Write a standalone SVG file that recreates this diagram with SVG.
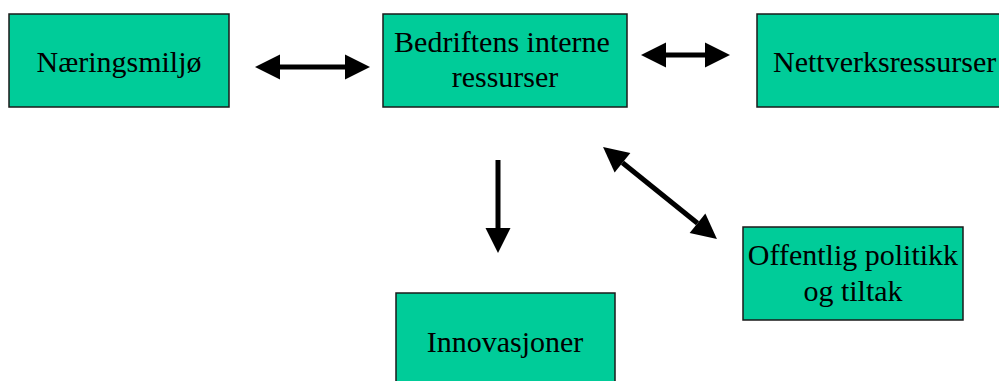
<svg xmlns="http://www.w3.org/2000/svg" width="999" height="381" viewBox="0 0 999 381">
<style>
.box{fill:#00CC99;stroke:#1a1a1a;stroke-width:1.5}
.lbl{font-family:"Liberation Serif","Times New Roman",serif;font-size:30px;fill:#000;text-anchor:middle}
.arr{stroke:#000;stroke-width:5;fill:none}
</style>
<defs>
<marker id="head" markerUnits="userSpaceOnUse" markerWidth="26" markerHeight="26" refX="0" refY="12.5" orient="auto-start-reverse" overflow="visible">
<path d="M0,0 L25,12.5 L0,25 Z" fill="#000"/>
</marker>
</defs>
<rect width="999" height="381" fill="#fff"/>
<g id="naeringsmiljo">
<rect class="box" x="9" y="14" width="220" height="93"/>
<text class="lbl" x="119" y="72">Næringsmiljø</text>
</g>
<g id="bedriftens">
<rect class="box" x="383" y="14" width="244" height="93"/>
<text class="lbl" x="502" y="52">Bedriftens interne</text>
<text class="lbl" x="505" y="87">ressurser</text>
</g>
<g id="nettverk">
<rect class="box" x="757" y="14" width="250" height="93"/>
<text class="lbl" x="773" y="72" style="text-anchor:start">Nettverksressurser</text>
</g>
<g id="offentlig">
<rect class="box" x="743" y="227" width="220" height="93"/>
<text class="lbl" x="853" y="265">Offentlig politikk</text>
<text class="lbl" x="853" y="301">og tiltak</text>
</g>
<g id="innovasjoner">
<rect class="box" x="396" y="293" width="219" height="100"/>
<text class="lbl" x="505" y="352">Innovasjoner</text>
</g>
<g id="connectors">
<line class="arr" x1="280" y1="67" x2="345" y2="67" marker-start="url(#head)" marker-end="url(#head)"/>
<line class="arr" x1="666" y1="55" x2="705" y2="55" marker-start="url(#head)" marker-end="url(#head)"/>
<line class="arr" x1="498" y1="160" x2="498" y2="228" marker-end="url(#head)"/>
<line class="arr" x1="622.5" y1="162.7" x2="697.5" y2="223.3" marker-start="url(#head)" marker-end="url(#head)"/>
</g>
</svg>
